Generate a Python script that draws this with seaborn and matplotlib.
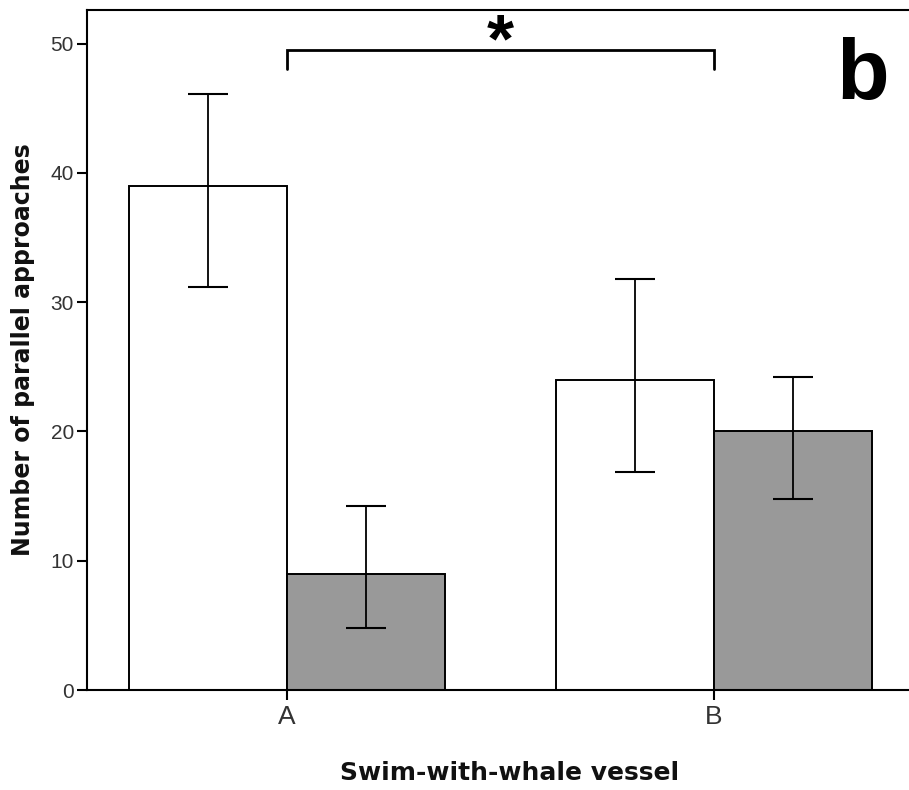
import matplotlib
matplotlib.use("Agg")
import matplotlib.pyplot as plt
import seaborn as sns
import pandas as pd
import numpy as np

# ---- data ----
vessels = ["A", "B"]
groups = ["white", "grey"]
means_white = [39.0, 24.0]
means_grey = [9.0, 20.0]
lo_white = [31.2, 16.9]
hi_white = [46.1, 31.8]
lo_grey = [4.8, 14.8]
hi_grey = [14.2, 24.2]
bracket_y = 49.5
bracket_leg = 48.0
sig_label = "*"
panel_label = "b"

sns.set_theme(style="white")
plt.rcParams['font.family'] = ['Liberation Sans', 'DejaVu Sans']

df = pd.DataFrame({
    "vessel": vessels * 2,
    "group": [groups[0]] * 2 + [groups[1]] * 2,
    "value": means_white + means_grey,
})

fig = plt.figure(figsize=(9.09, 7.90), dpi=100)
ax = fig.add_axes([87 / 909, 100 / 790, 1 - 87 / 909, 680 / 790])

sns.barplot(data=df, x="vessel", y="value", hue="group", order=vessels,
            hue_order=groups, palette={"white": "#ffffff", "grey": "#999999"},
            edgecolor="black", linewidth=1.4, width=0.74, errorbar=None,
            saturation=1, ax=ax, legend=False)

# error bars at bar centres
los = lo_white + lo_grey
his = hi_white + hi_grey
bars = [p for p in ax.patches][:4]
for p, m, lo, hi in zip(bars, means_white + means_grey, los, his):
    xc = p.get_x() + p.get_width() / 2
    ax.errorbar([xc], [m], yerr=[[m - lo], [hi - m]], fmt="none",
                ecolor="black", elinewidth=1.3, capsize=14.4, capthick=1.5, zorder=5)

ax.set_xlim(-0.468, 1.457)
ax.set_ylim(0, 52.6)
ax.set_yticks([0, 10, 20, 30, 40, 50])

# significance bracket
ax.plot([0, 0, 1, 1], [bracket_leg, bracket_y, bracket_y, bracket_leg],
        color="black", lw=2.0, solid_joinstyle="miter", zorder=6)
ax.text(0.5, 48.6, sig_label, ha="center", va="baseline",
        fontsize=50, fontweight="bold", color="black")
ax.text(0.976, 0.96, panel_label, transform=ax.transAxes, ha="right", va="top",
        fontsize=62, fontweight="bold", color="black")

for s in ["left", "bottom", "top"]:
    ax.spines[s].set_visible(True)
    ax.spines[s].set_color("black")
    ax.spines[s].set_linewidth(1.5)
ax.spines["right"].set_visible(False)

ax.tick_params(axis="both", which="both", direction="out", width=1.5,
               colors="black", labelcolor="#333333", left=True, bottom=True)
ax.tick_params(axis="y", length=7.5, pad=2, labelsize=15)
ax.tick_params(axis="x", length=7.5, pad=3, labelsize=19)

ax.set_xlabel("Swim-with-whale vessel", fontsize=18, fontweight="bold",
              family=["DejaVu Sans"], color="#111111")
ax.set_ylabel("Number of parallel approaches", fontsize=17, fontweight="bold",
              family=["DejaVu Sans"], color="#111111")
ax.xaxis.label.set_va("center")
ax.yaxis.label.set_va("center")
ax.xaxis.set_label_coords(0.5 + (510 - 498) / 822, (690 - 773) / 680)
ax.yaxis.set_label_coords((23 - 87) / 822, 0.5)

fig.savefig("out.png", dpi=100)
